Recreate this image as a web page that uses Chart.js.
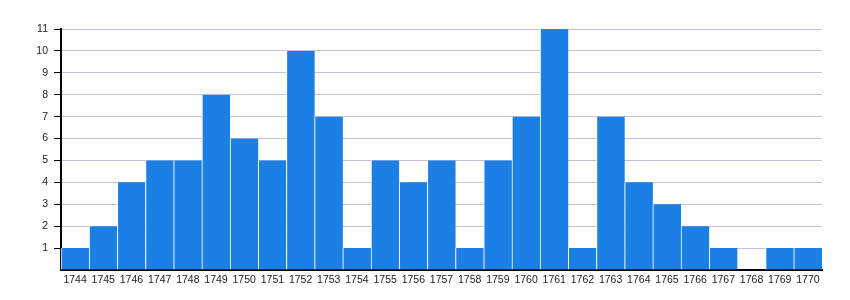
<!DOCTYPE html>
<html>
<head>
<meta charset="utf-8">
<script src="https://cdn.jsdelivr.net/npm/chart.js@4"></script>
<style>
  html, body { margin: 0; padding: 0; background: #fff; }
  #wrap { width: 850px; height: 300px; }
</style>
</head>
<body>
<div id="wrap"><canvas id="chart" width="850" height="300"></canvas></div>
<script>
const years = ['1744', '1745', '1746', '1747', '1748', '1749', '1750', '1751', '1752', '1753',
  '1754', '1755', '1756', '1757', '1758', '1759', '1760', '1761', '1762', '1763',
  '1764', '1765', '1766', '1767', '1768', '1769', '1770'];
const counts = [1, 2, 4, 5, 5, 8, 6, 5, 10, 7, 1, 5, 4, 5, 1, 5, 7, 11, 1, 7, 4, 3, 2, 1, 0, 1, 1];
const yMax = 11;

const ctx = document.getElementById('chart').getContext('2d');

new Chart(ctx, {
  type: 'bar',
  data: {
    labels: years,
    datasets: [{
      data: counts,
      backgroundColor: '#1b7fe3',
      borderColor: '#ffffff',
      borderWidth: { left: 1, right: 0, top: 0, bottom: 0 },
      borderSkipped: false,
      barPercentage: 1,
      categoryPercentage: 1,
    }],
  },
  options: {
    responsive: false,
    animation: false,
    layout: { padding: { left: 0, right: 28, top: 29, bottom: 0 } },
    plugins: {
      legend: { display: false },
      tooltip: { enabled: false },
    },
    scales: {
      x: {
        grid: { display: false, drawTicks: false },
        border: { display: true, color: '#000', width: 2 },
        ticks: {
          color: '#222',
          font: { family: 'Liberation Sans, Arial, sans-serif', size: 10.5 },
          padding: 4,
          maxRotation: 0,
          autoSkip: false,
        },
        afterFit: (scale) => { scale.height = 30; },
      },
      y: {
        min: 0,
        max: yMax,
        border: { display: true, color: '#000', width: 2 },
        grid: {
          color: (c) => (c.tick && c.tick.value === 0 ? 'rgba(0,0,0,0)' : '#c6c0dc'),
          tickColor: (c) => (c.tick && c.tick.value === 0 ? 'rgba(0,0,0,0)' : '#000'),
          tickLength: 7,
          lineWidth: 1,
        },
        ticks: {
          stepSize: 1,
          color: '#222',
          padding: 6,
          font: { family: 'Liberation Sans, Arial, sans-serif', size: 10.5 },
          callback: (v) => (v === 0 ? '' : v),
        },
        afterFit: (scale) => { scale.width = 61; },
      },
    },
  },
});
</script>
</body>
</html>
